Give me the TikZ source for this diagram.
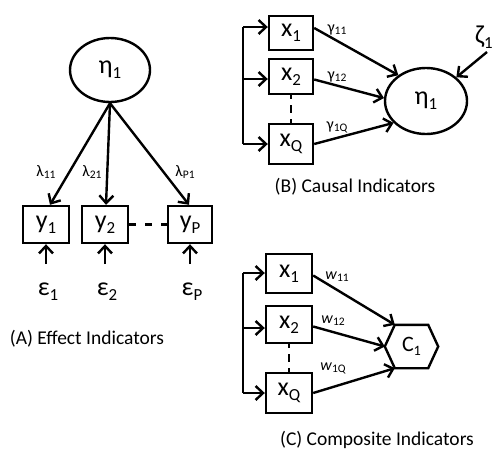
\documentclass[tikz,border=0pt]{standalone}
\usepackage{fontspec}
\setmainfont{Carlito}
\usetikzlibrary{arrows.meta,shapes.geometric}
\newcommand\sbx[1]{\raisebox{-0.18em}{\scalebox{0.65}{#1}}}
\newcommand\sbs[1]{\raisebox{-0.12em}{\scalebox{0.72}{#1}}}
\begin{document}
\begin{tikzpicture}[x=1pt,y=-1pt,line width=2.4pt,
  bigtxt/.style={font=\fontsize{26}{26}\selectfont},
  box/.style={draw, inner sep=0pt, bigtxt},
  lat/.style={draw, ellipse, inner sep=0pt, bigtxt},
  arr/.style={-{Straight Barb[length=7.5pt,width=14pt]}},
  lab/.style={inner sep=0pt, font=\fontsize{16}{16}\selectfont},
  captxt/.style={inner sep=0pt, font=\fontsize{19.5}{22}\selectfont},
  dshh/.style={dash pattern=on 7pt off 9pt},
  dshv/.style={dash pattern=on 8pt off 6pt, dash phase=4pt}]
\useasboundingbox (0,0) rectangle (493,450);
% ---------- Panel A ----------
\node[lat, minimum width=80pt, minimum height=64pt] (etaA) at (110,70) {η\sbx{1}};
\node[box, minimum width=46pt, minimum height=37pt] (y1) at (46,224.5) {y\sbx{1}};
\node[box, minimum width=46pt, minimum height=37pt] (y2) at (105,224.5) {y\sbx{2}};
\node[box, minimum width=44pt, minimum height=37pt] (yP) at (190,224.5) {y\sbx{P}};
\draw[arr] (etaA.south) -- ([xshift=4pt]y1.north);
\draw[arr] (etaA.south) -- ([xshift=1pt]y2.north);
\draw[arr] (etaA.south) -- ([xshift=-1pt]yP.north);
\node[lab] (l11) at (46,172) {λ\sbs{11}};
\node[lab] (l21) at (92,172) {λ\sbs{21}};
\node[lab] (lP1) at (185,172) {λ\sbs{P1}};
\draw[dshh] (y2.east) -- (yP.west);
\node[bigtxt, inner sep=0pt] (e1) at (48,292) {ε\sbx{1}};
\node[bigtxt, inner sep=0pt] (e2) at (107,292) {ε\sbx{2}};
\node[bigtxt, inner sep=0pt] (eP) at (192,292) {ε\sbx{P}};
\coordinate (e1t) at (46,264);
\coordinate (e2t) at (105,264);
\coordinate (ePt) at (190,264);
\draw[arr] (e1t) -- (y1.south);
\draw[arr] (e2t) -- (y2.south);
\draw[arr] (ePt) -- (yP.south);
\node[captxt] (capA) at (87,339) {(A) Effect Indicators};
% ---------- Panel B ----------
\node[box, minimum width=44pt, minimum height=34pt] (bx1) at (291,33) {x\sbx{1}};
\node[box, minimum width=44pt, minimum height=35pt] (bx2) at (291,76.5) {x\sbx{2}};
\node[box, minimum width=44pt, minimum height=40pt] (bxQ) at (291,144) {x\sbx{Q}};
\node[lat, minimum width=82pt, minimum height=66pt] (etaB) at (426,101) {η\sbx{1}};
\coordinate (bb1) at (243,27);
\coordinate (bb2) at (243,79);
\coordinate (bbQ) at (243,144);
\draw (bb1) -- (bbQ);
\draw[arr] (bb1) -- (bb1 -| bx1.west);
\draw[arr] (bb2) -- (bb2 -| bx2.west);
\draw[arr] (bbQ) -- (bbQ -| bxQ.west);
\draw[dshv] (bx2.south) -- (bxQ.north);
\draw[arr] ([yshift=5pt]bx1.east) -- (etaB.137);
\draw[arr] ([yshift=-3pt]bx2.east) -- (etaB.176);
\draw[arr] (bxQ.east) -- (etaB.214);
\node[lab] (g11) at (337,30) {γ\sbs{11}};
\node[lab] (g12) at (337,77) {γ\sbs{12}};
\node[lab] (g1Q) at (337,127) {γ\sbs{1Q}};
\node[bigtxt, inner sep=0pt] (zeta) at (484,37) {ζ\sbx{1}};
\coordinate (zt) at (487,52);
\draw[arr] (zt) -- (etaB.38);
\node[captxt] (capB) at (355,187) {(B) Causal Indicators};
% ---------- Panel C ----------
\node[box, minimum width=46pt, minimum height=39pt] (cx1) at (289,273.5) {x\sbx{1}};
\node[box, minimum width=46pt, minimum height=37pt] (cx2) at (289,324.5) {x\sbx{2}};
\node[box, minimum width=46pt, minimum height=40pt] (cxQ) at (289,393) {x\sbx{Q}};
\node[inner sep=0pt, minimum width=51pt, minimum height=41pt, bigtxt] (c1) at (411.5,346.5) {\fontsize{22}{22}\selectfont C\sbx{1}};
\draw (c1.west) -- ([xshift=10pt]c1.north west) -- ([xshift=-10pt]c1.north east)
  -- (c1.east) -- ([xshift=-10pt]c1.south east) -- ([xshift=10pt]c1.south west) -- cycle;
\coordinate (cb1) at (243,273);
\coordinate (cb2) at (243,328);
\coordinate (cbQ) at (243,393);
\draw (cb1) -- (cbQ);
\draw[arr] (cb1) -- (cb1 -| cx1.west);
\draw[arr] (cb2) -- (cb2 -| cx2.west);
\draw[arr] (cbQ) -- (cbQ -| cxQ.west);
\draw[dshv] (cx2.south) -- (cxQ.north);
\draw[arr] ([yshift=-2pt]cx1.east) -- ([xshift=10pt]c1.north west);
\draw[arr] ([yshift=-2pt]cx2.east) -- (c1.west);
\draw[arr] (cxQ.east) -- ([xshift=10pt]c1.south west);
\node[lab] (w11) at (337,277) {\textit{w}\sbs{11}};
\node[lab] (w12) at (333,321) {\textit{w}\sbs{12}};
\node[lab] (w1Q) at (333,368) {\textit{w}\sbs{1Q}};
\node[captxt] (capC) at (377,440) {(C) Composite Indicators};
\end{tikzpicture}
\end{document}
